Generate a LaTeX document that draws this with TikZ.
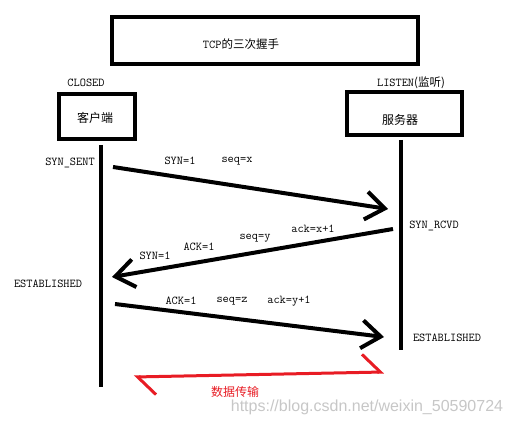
\documentclass[tikz,border=0pt]{standalone}
\usepackage{fontspec}
\newfontfamily\cjk{Noto Sans CJK SC}
\newfontfamily\wmfont{Liberation Sans}
\usetikzlibrary{arrows.meta}
\definecolor{myred}{RGB}{232,28,36}
\tikzset{
  box/.style={draw, line width=4pt, inner sep=0pt, fill=white},
  lbl/.style={inner sep=0pt, font=\ttfamily\fontsize{12}{12}\selectfont},
  cj/.style={inner sep=0pt, font=\cjk\fontsize{12}{12}\selectfont},
  life/.style={line width=4pt},
  msg/.style={line width=4pt, -{Straight Barb[length=19pt,width=28pt]}},
  data/.style={line width=3pt, myred,
    {Straight Barb[left,length=18pt,width=36pt]}-{Straight Barb[left,length=18pt,width=36pt]}},
}
\begin{document}
\begin{tikzpicture}[x=1pt,y=-1pt]
\useasboundingbox[fill=white] (0,0) rectangle (512,427);
% boxes
\node[box, minimum width=306pt, minimum height=47pt] (title) at (265,40.5) {};
\node[box, minimum width=76pt, minimum height=45pt] (client) at (97,116.5) {};
\node[box, minimum width=115pt, minimum height=43pt] (server) at (404.5,113.5) {};
\node[lbl] (ttext) at (241,44) {TCP{\cjk\fontsize{11.5}{11.5}\selectfont 的三次握手}};
\node[cj] (ctext) at (95,118) {客户端};
\node[cj] (stext) at (400,120) {服务器};
\node[lbl] (closed) at (86,83) {CLOSED};
\node[lbl] (listen) at (411,83) {LISTEN{\cjk\fontsize{11.5}{11.5}\selectfont (监听)}};
% lifelines
\coordinate (c1) at (101,145);
\coordinate (c2) at (101,387);
\coordinate (s1) at (401,140);
\coordinate (s2) at (401,350);
\draw[life] (c1) -- (c2);
\draw[life] (s1) -- (s2);
% state labels
\node[lbl] (synsent) at (70,163) {SYN\_SENT};
\node[lbl] (synrcvd) at (434,226) {SYN\_RCVD};
\node[lbl] (estc) at (48,284) {ESTABLISHED};
\node[lbl] (ests) at (447,338) {ESTABLISHED};
% message 1
\coordinate (m1a) at (113,167);
\coordinate (m1b) at (388,209);
\draw[msg] (m1a) -- (m1b);
\node[lbl] (l11) at (180,161) {SYN=1};
\node[lbl] (l12) at (237,161) {seq=x};
% message 2
\coordinate (m2a) at (393,229);
\coordinate (m2b) at (112,277);
\draw[msg] (m2a) -- (m2b);
\node[lbl] (l21) at (313,229) {ack=x+1};
\node[lbl] (l22) at (255,238) {seq=y};
\node[lbl] (l23) at (199,247) {ACK=1};
\node[lbl] (l24) at (155,256) {SYN=1};
% message 3
\coordinate (m3a) at (115,304);
\coordinate (m3b) at (384,337);
\draw[msg] (m3a) -- (m3b);
\node[lbl] (l31) at (181,301) {ACK=1};
\node[lbl] (l32) at (232,301) {seq=z};
\node[lbl] (l33) at (289,301) {ack=y+1};
% data transfer
\coordinate (d1) at (134,377);
\coordinate (d2) at (384,372);
\draw[data] (d1) -- (d2);
\node[cj, text=myred] (dtext) at (235,392) {数据传输};
% watermark
\node[inner sep=0pt, text=black!22, font=\wmfont\fontsize{16}{16}\selectfont] (wm) at (367,407) {https://blog.csdn.net/weixin\_50590724};
\end{tikzpicture}
\end{document}
